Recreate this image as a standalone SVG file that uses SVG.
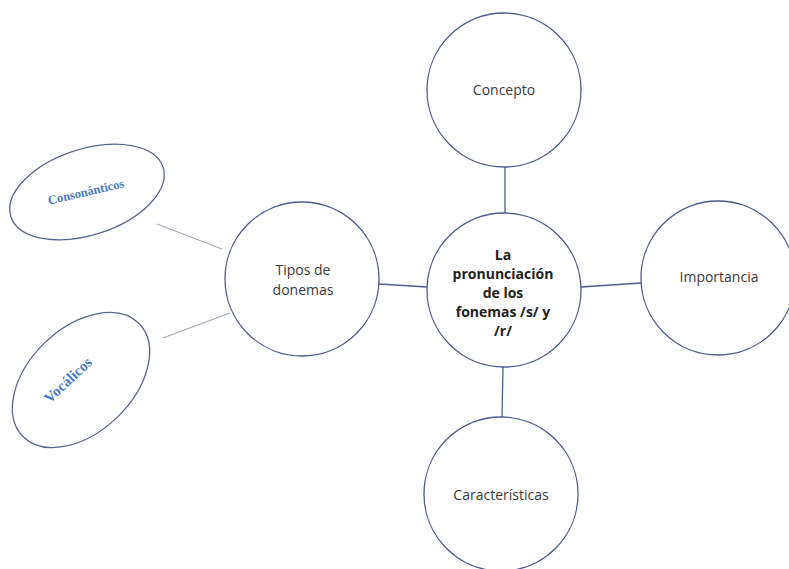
<svg xmlns="http://www.w3.org/2000/svg" width="789" height="569" viewBox="0 0 789 569">
<style>
.node{fill:#ffffff;stroke:#4e5b8c;stroke-width:1.3}
.ell{fill:#ffffff;stroke:#5a6690;stroke-width:1.3}
.lbl{font-family:"Open Sans","Liberation Sans",sans-serif;font-size:14px;fill:#3a3a3a;text-anchor:middle}
.bold{font-weight:bold;fill:#222}
.blue{font-family:"Liberation Serif","DejaVu Serif",serif;font-weight:bold;fill:#4a7cc4;text-anchor:middle}
.conn{stroke:#4e5b8c;stroke-width:1.3;fill:none}
.conn2{stroke:#a8aab8;stroke-width:1.3;fill:none}
</style>
<rect width="789" height="569" fill="#ffffff"/>
<g id="connectors">
<line class="conn" x1="505" y1="167" x2="505" y2="213"/>
<line class="conn" x1="503" y1="367" x2="502" y2="417"/>
<line class="conn" x1="379" y1="284" x2="427" y2="287"/>
<line class="conn" x1="581" y1="287" x2="641" y2="283"/>
<line class="conn2" x1="157" y1="224" x2="222" y2="249"/>
<line class="conn2" x1="163" y1="338" x2="230" y2="313"/>
</g>
<g id="concepto">
<circle class="node" cx="504" cy="90" r="77"/>
<text class="lbl" x="504" y="95">Concepto</text>
</g>
<g id="centro">
<circle class="node" cx="504" cy="290" r="77"/>
<text class="lbl bold" x="503" y="260" font-size="13.5">La</text>
<text class="lbl bold" x="503" y="279" font-size="13.5">pronunciación</text>
<text class="lbl bold" x="503" y="298" font-size="13.5">de los</text>
<text class="lbl bold" x="503" y="317" font-size="13.5">fonemas /s/ y</text>
<text class="lbl bold" x="503" y="336" font-size="13.5">/r/</text>
</g>
<g id="tipos">
<circle class="node" cx="302" cy="279" r="77"/>
<text class="lbl" x="303" y="275">Tipos de</text>
<text class="lbl" x="303" y="295">donemas</text>
</g>
<g id="importancia">
<circle class="node" cx="718" cy="278" r="77"/>
<text class="lbl" x="719" y="282">Importancia</text>
</g>
<g id="caracteristicas">
<circle class="node" cx="501" cy="494" r="77"/>
<text class="lbl" x="501" y="500">Características</text>
</g>
<g id="consonanticos">
<ellipse class="ell" cx="87" cy="192" rx="80" ry="43" transform="rotate(-18 87 192)"/>
<text class="blue" x="86" y="196" font-size="12.5" transform="rotate(-13 86 192)">Consonánticos</text>
</g>
<g id="vocalicos">
<ellipse class="ell" cx="81" cy="380" rx="81" ry="52" transform="rotate(-44 81 380)"/>
<text class="blue" x="68" y="385" font-size="15" transform="rotate(-43 68 380)">Vocálicos</text>
</g>
</svg>
